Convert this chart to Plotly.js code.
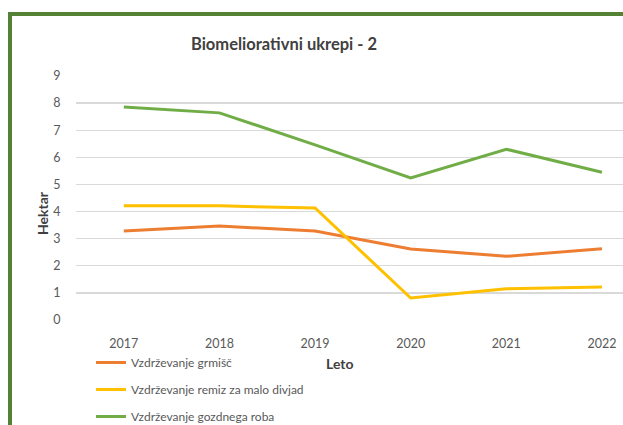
<!DOCTYPE html>
<html>
<head>
<meta charset="utf-8">
<script src="https://cdn.plot.ly/plotly-3.0.1.min.js"></script>
<style>
html,body{margin:0;padding:0;overflow:hidden;background:#fff;}
#wrap{position:relative;width:623px;height:425px;}
#chart{position:absolute;left:0;top:0;width:623px;height:425px;}
#frame{position:absolute;left:8px;top:12px;width:640px;height:440px;border-left:4px solid #548235;border-top:4px solid #548235;pointer-events:none;}
</style>
</head>
<body>
<div id="wrap"><div id="chart"></div><div id="frame"></div></div>
<script>
const years = ['2017','2018','2019','2020','2021','2022'];
const grmisc = [3.28, 3.47, 3.28, 2.62, 2.35, 2.63];
const remiz = [4.21, 4.21, 4.13, 0.81, 1.15, 1.22];
const gozdRob = [7.86, 7.64, 6.46, 5.24, 6.30, 5.45];
const seriesNames = ['Vzdrževanje grmišč', 'Vzdrževanje remiz za malo divjad', 'Vzdrževanje gozdnega roba'];
const colors = ['#ED7D31', '#FFC000', '#70AD47'];
const series = [grmisc, remiz, gozdRob];
const xTitle = 'Leto';
const yTitle = 'Hektar';

const font = 'Lato, "Open Sans", sans-serif';
const traces = series.map((v, i) => ({
  x: years, y: v, type: 'scatter', mode: 'lines', name: seriesNames[i],
  line: {color: colors[i], width: 3},
  legendgroup: 'g' + i
}));

const layout = {
  width: 623, height: 425,
  margin: {l: 76, r: 0, t: 76, b: 105, autoexpand: false},
  paper_bgcolor: 'rgba(0,0,0,0)', plot_bgcolor: 'rgba(0,0,0,0)',
  font: {family: font, color: '#595959', size: 12},
  title: {text: '<b>Biomeliorativni ukrepi - 2</b>', font: {family: font, size: 16.5, color: '#404040'},
          x: 284/623, xanchor: 'center', xref: 'container', y: 1 - 44/425, yanchor: 'middle', yref: 'container'},
  xaxis: {type: 'category', range: [-0.5, 5.22], automargin: false, showgrid: false, zeroline: false, showline: false,
          ticks: 'outside', ticklen: 0, ticklabelstandoff: 12, tickfont: {size: 12.5, color: '#595959'}},
  yaxis: {range: [0, 9], dtick: 1, automargin: false, showgrid: true, gridcolor: '#D9D9D9', gridwidth: 1.3, zeroline: false, showline: false,
          ticks: 'outside', ticklen: 0, ticklabelstandoff: 12, tickfont: {size: 12.5, color: '#595959'}},
  annotations: [
    {text: '<b>' + xTitle + '</b>', xref: 'paper', yref: 'paper', x: (340-76)/547, y: -(363-320)/244,
     xanchor: 'center', yanchor: 'middle', showarrow: false, font: {size: 14, color: '#404040'}},
    {text: '<b>' + yTitle + '</b>', xref: 'paper', yref: 'paper', x: -(76-42)/547, y: (320-213)/244,
     xanchor: 'center', yanchor: 'middle', textangle: -90, showarrow: false, font: {size: 14, color: '#404040'}}
  ],
  showlegend: true,
  legend: {orientation: 'v', xref: 'container', yref: 'container', x: 91/623, xanchor: 'left', y: 1 - 348/425, yanchor: 'top',
           font: {size: 12, color: '#595959'}, itemwidth: 30, tracegroupgap: 8, bgcolor: 'rgba(0,0,0,0)'}
};
Plotly.newPlot('chart', traces, layout, {displayModeBar: false, staticPlot: true});
</script>
</body>
</html>
